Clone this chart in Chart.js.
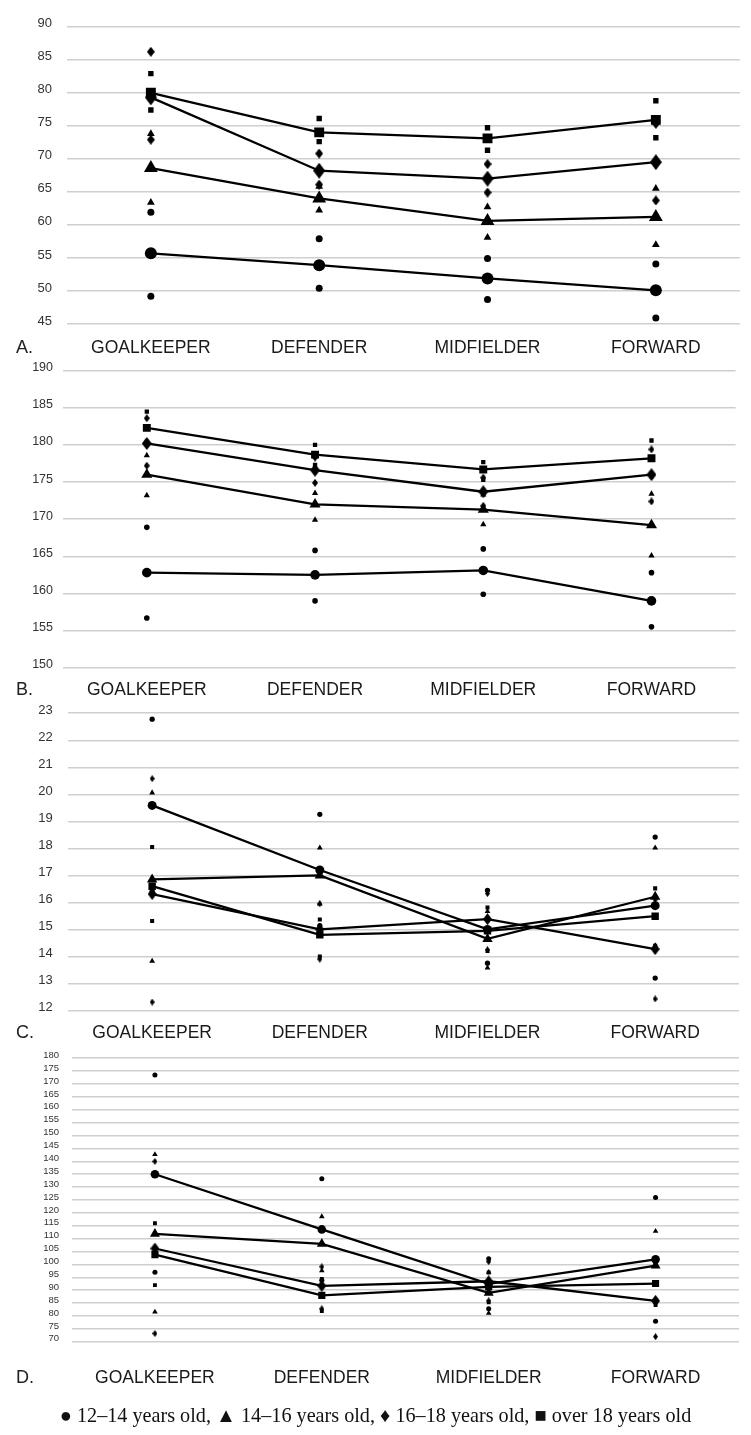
<!DOCTYPE html>
<html>
<head>
<meta charset="utf-8">
<script src="https://cdn.jsdelivr.net/npm/chart.js@4.4.0/dist/chart.umd.min.js"></script>
<style>
  html, body { margin: 0; padding: 0; background: #fff; }
  #page { position: relative; width: 751px; height: 1435px; overflow: hidden; }
  .panel { position: absolute; left: 0; }
  .panel canvas { display: block; }
  .tag { position: absolute; left: 16px; height: 22px; line-height: 22px;
         font: 18px "Liberation Sans", Arial, sans-serif; color: #222; }
  #legend { position: absolute; left: 0; width: 751px; height: 26px; line-height: 26px;
            text-align: center; white-space: nowrap; color: #111;
            font: 20.2px "Liberation Serif", "Times New Roman", serif; }
</style>
</head>
<body>
<div id="page">
  <div class="panel" id="wrap-a"><canvas id="chart-a"></canvas></div>
  <div class="panel" id="wrap-b"><canvas id="chart-b"></canvas></div>
  <div class="panel" id="wrap-c"><canvas id="chart-c"></canvas></div>
  <div class="panel" id="wrap-d"><canvas id="chart-d"></canvas></div>
  <div class="tag" id="tag-a">A.</div>
  <div class="tag" id="tag-b">B.</div>
  <div class="tag" id="tag-c">C.</div>
  <div class="tag" id="tag-d">D.</div>
  <div id="legend">● 12–14 years old, ▲ 14–16 years old, ♦ 16–18 years old, ■ over 18 years old</div>
</div>
<script>
const positions = ["GOALKEEPER", "DEFENDER", "MIDFIELDER", "FORWARD"];
const ageGroups = ["12–14 years old", "14–16 years old", "16–18 years old", "over 18 years old"];

/* A */
const aTicks = { min: 45, max: 90, step: 5 };
const aMean = [
  [55.7, 53.9, 51.9, 50.1],
  [68.6, 64.0, 60.6, 61.2],
  [79.3, 68.2, 67.0, 69.5],
  [80.0, 74.0, 73.1, 75.9]
];
const aHigh = [
  [61.9, 57.9, 54.9, 54.1],
  [73.8, 65.8, 62.7, 65.5],
  [86.2, 70.8, 69.2, 75.3],
  [82.9, 76.1, 74.7, 78.8]
];
const aLow = [
  [49.2, 50.4, 48.7, 45.9],
  [63.4, 62.2, 58.1, 57.0],
  [72.9, 66.1, 64.9, 63.7],
  [77.4, 72.6, 71.3, 73.2]
];

/* B */
const bTicks = { min: 150, max: 190, step: 5 };
const bMean = [
  [162.8, 162.5, 163.1, 159.0],
  [176.0, 172.0, 171.3, 169.2],
  [180.2, 176.6, 173.7, 176.0],
  [182.3, 178.7, 176.7, 178.2]
];
const bHigh = [
  [168.9, 165.8, 166.0, 162.8],
  [178.6, 173.5, 173.3, 173.4],
  [183.6, 178.3, 175.6, 179.4],
  [184.5, 180.0, 177.7, 180.6]
];
const bLow = [
  [156.7, 159.0, 159.9, 155.5],
  [173.2, 169.9, 169.3, 165.1],
  [177.2, 174.9, 171.8, 172.4],
  [180.4, 177.3, 175.3, 175.8]
];

/* C */
const cTicks = { min: 12, max: 23, step: 1 };
const cMean = [
  [19.59, 17.2, 15.0, 15.88],
  [16.85, 17.0, 14.65, 16.21],
  [16.31, 15.0, 15.38, 14.27],
  [16.6, 14.8, 14.95, 15.49]
];
const cHigh = [
  [22.78, 19.26, 16.45, 18.42],
  [20.06, 18.02, 15.67, 18.02],
  [20.58, 15.95, 16.33, 16.1],
  [18.05, 15.37, 15.81, 16.52]
];
const cLow = [
  [16.4, 15.14, 13.75, 13.2],
  [13.83, 15.95, 13.58, 14.4],
  [12.31, 13.9, 14.25, 12.43],
  [15.31, 14.0, 14.2, 14.4]
];

/* D */
const dTicks = { min: 70, max: 180, step: 5 };
const dMean = [
  [135.0, 113.6, 92.5, 102.0],
  [111.9, 108.0, 89.0, 99.6],
  [106.2, 91.7, 93.5, 85.9],
  [103.8, 88.0, 91.3, 92.6]
];
const dHigh = [
  [173.5, 133.3, 102.2, 126.0],
  [142.7, 118.6, 97.0, 112.9],
  [140.0, 99.1, 101.1, 99.8],
  [116.0, 94.4, 96.9, 100.9]
];
const dLow = [
  [97.0, 93.9, 82.8, 78.0],
  [81.6, 97.6, 81.1, 86.3],
  [73.2, 82.8, 85.9, 72.0],
  [92.0, 81.9, 85.3, 84.3]
];

/* marker look */
const shapes = ["circle", "triangle", "diamond", "rect"];
const bigR = [6, 8, 8, 7];
const smallR = [3.5, 4.5, 4.8, 3.8];
const sans = '"Liberation Sans", Arial, sans-serif';

// where each panel sits on the page
const boxes = {
  a: { top: 26.7, bottom: 324, left: 66.7, right: 740, labelY: 347.7, tickRight: 52, tickSize: 13, scale: 1 },
  b: { top: 370.7, bottom: 667.7, left: 62.7, right: 735.6, labelY: 690, tickRight: 53, tickSize: 12.5, scale: 0.8 },
  c: { top: 713.3, bottom: 1010.5, left: 68.3, right: 739, labelY: 1033, tickRight: 52.7, tickSize: 13, scale: 0.75 },
  d: { top: 1058.3, bottom: 1341.8, left: 71.5, right: 739, labelY: 1378, tickRight: 59, tickSize: 9.5, scale: 0.72 }
};

// the ♦ in the figure is taller than wide, rectRot is square, so draw our own
function diamond(r) {
  const h = Math.max(4, Math.round(r * 2));
  const w = Math.max(3, Math.round(h * 0.75));
  const c = document.createElement("canvas");
  c.width = w;
  c.height = h;
  const ctx = c.getContext("2d");
  ctx.fillStyle = "#000";
  ctx.beginPath();
  ctx.moveTo(w / 2, 0);
  ctx.lineTo(w, h / 2);
  ctx.lineTo(w / 2, h);
  ctx.lineTo(0, h / 2);
  ctx.closePath();
  ctx.fill();
  return c;
}

function marker(g, r) {
  return shapes[g] === "diamond" ? diamond(r) : shapes[g];
}

function buildPanel(key, mean, high, low, ticks) {
  const box = boxes[key];
  const wrap = document.getElementById("wrap-" + key);
  const canvas = document.getElementById("chart-" + key);
  // y tick padding + half a label sit above the top gridline, so leave room
  const canvasTop = Math.max(0, Math.round(box.top) - 28);
  const canvasH = Math.round(box.labelY) + 16 - canvasTop;
  wrap.style.top = canvasTop + "px";
  canvas.width = 751;
  canvas.height = canvasH;
  canvas.style.width = "751px";
  canvas.style.height = canvasH + "px";

  const tag = document.getElementById("tag-" + key);
  tag.style.top = (box.labelY - 11) + "px";

  const catSize = 17.5;
  const xHeight = canvasH - (box.bottom - canvasTop);
  const labelPad = box.labelY - box.bottom - 0.6 * catSize;

  const datasets = [];
  mean.forEach((vals, g) => {
    const r = bigR[g] * box.scale;
    datasets.push({
      label: ageGroups[g],
      data: vals,
      borderColor: "#000",
      backgroundColor: "#000",
      borderWidth: 2.3,
      tension: 0,
      pointStyle: marker(g, r),
      pointRadius: r,
      pointBorderWidth: 0,
      pointBackgroundColor: "#000",
      order: 0
    });
  });
  [high, low].forEach(set => {
    set.forEach((vals, g) => {
      const r = smallR[g] * box.scale;
      datasets.push({
        label: ageGroups[g] + " SD",
        data: vals,
        showLine: false,
        borderColor: "#000",
        backgroundColor: "#000",
        pointStyle: marker(g, r),
        pointRadius: r,
        pointBorderWidth: 0,
        pointBackgroundColor: "#000",
        order: 1
      });
    });
  });

  return new Chart(canvas, {
    type: "line",
    data: { labels: positions, datasets },
    options: {
      responsive: false,
      animation: false,
      devicePixelRatio: 1,
      layout: { padding: { top: box.top - canvasTop, left: 0, right: 751 - box.right, bottom: 0 } },
      plugins: { legend: { display: false }, tooltip: { enabled: false } },
      scales: {
        x: {
          type: "category",
          offset: true,
          grid: { display: false, drawTicks: false },
          border: { display: false },
          ticks: {
            color: "#1a1a1a",
            font: { family: sans, size: catSize },
            padding: labelPad,
            maxRotation: 0,
            autoSkip: false
          },
          afterFit: s => { s.height = xHeight; }
        },
        y: {
          min: ticks.min,
          max: ticks.max,
          grid: { color: "#cfcfcf", lineWidth: 1.6, drawTicks: false },
          border: { display: false },
          ticks: {
            stepSize: ticks.step,
            autoSkip: false,
            color: "#333",
            font: { family: sans, size: box.tickSize },
            padding: box.left - box.tickRight,
            labelOffset: -3
          },
          afterFit: s => { s.width = box.left; }
        }
      }
    }
  });
}

buildPanel("a", aMean, aHigh, aLow, aTicks);
buildPanel("b", bMean, bHigh, bLow, bTicks);
buildPanel("c", cMean, cHigh, cLow, cTicks);
buildPanel("d", dMean, dHigh, dLow, dTicks);

document.getElementById("legend").style.top = (1416.7 - 13) + "px";
</script>
</body>
</html>
